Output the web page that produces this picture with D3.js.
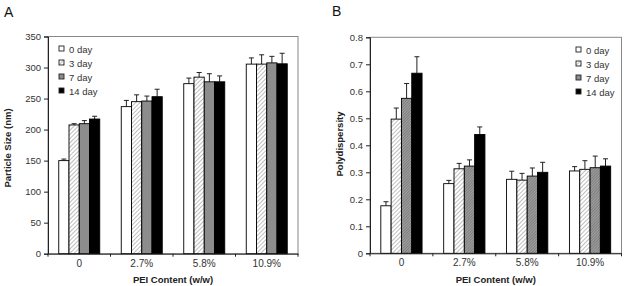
<!DOCTYPE html>
<html><head><meta charset="utf-8">
<script src="https://cdn.jsdelivr.net/npm/d3@7"></script>
<style>body{margin:0;background:#fff}svg{display:block;font-family:"Liberation Sans",Arial,sans-serif}</style>
</head><body><svg id="c" width="626" height="286"></svg>
<script>
const categories = ["0", "2.7%", "5.8%", "10.9%"];
const series = ["0 day", "3 day", "7 day", "14 day"];
// Panel A: particle size (nm), [category][series]
const sizeValues = [[150, 207.5, 209.5, 217], [237, 245, 246, 253], [274, 284.5, 277, 277], [305.5, 305.5, 307.5, 306]];
const sizeErrors = [[2.5, 2, 5, 4.5], [10, 11, 8, 12], [9, 7.5, 13, 9.5], [10, 15, 10.5, 17]];
const sizeTicks = [0, 50, 100, 150, 200, 250, 300, 350];
// Panel B: polydispersity
const pdiValues = [[0.176, 0.497, 0.574, 0.667], [0.258, 0.313, 0.323, 0.44], [0.274, 0.271, 0.286, 0.3], [0.305, 0.311, 0.317, 0.323]];
const pdiErrors = [[0.015, 0.041, 0.055, 0.061], [0.012, 0.02, 0.023, 0.028], [0.03, 0.025, 0.03, 0.037], [0.016, 0.032, 0.043, 0.027]];
const pdiTicks = [0, 0.1, 0.2, 0.3, 0.4, 0.5, 0.6, 0.7, 0.8];

const svg = d3.select("#c");
const defs = svg.append("defs");
function hatch(id, bg, stroke, size, w) {
  const p = defs.append("pattern").attr("id", id).attr("patternUnits", "userSpaceOnUse")
    .attr("width", size).attr("height", size).attr("patternTransform", "rotate(45)");
  p.append("rect").attr("width", size).attr("height", size).attr("fill", bg);
  p.append("line").attr("x1", 0).attr("y1", 0).attr("x2", 0).attr("y2", size).attr("stroke", stroke).attr("stroke-width", w);
}
hatch("h3", "#fff", "#888", 3, 1.1);
hatch("h7a", "#909090", "#808080", 2, 0.8);
hatch("h7b", "#a0a0a0", "#555", 2, 0.9);

function panel(o) {
  const g = svg.append("g");
  const x = d3.scaleBand().domain(categories).range([o.left, o.right]).paddingInner(0.344).paddingOuter(0.172);
  const xs = d3.scaleBand().domain(series).range([0, x.bandwidth()]);
  const y = d3.scaleLinear().domain([o.ticks[0], o.ticks[o.ticks.length - 1]]).range([o.bottom, o.top]);
  const fills = ["#fff", "url(#h3)", o.fill7, "#000"];
  g.append("rect").attr("x", o.left).attr("y", o.top).attr("width", o.right - o.left).attr("height", o.bottom - o.top)
    .attr("fill", "none").attr("stroke", "#888").attr("stroke-width", 1);
  categories.forEach((c, i) => {
    series.forEach((s, j) => {
      const v = o.values[i][j], e = o.errors[i][j];
      const bx = x(c) + xs(s), bw = xs.bandwidth();
      const cx = bx + bw / 2;
      g.append("line").attr("x1", cx).attr("x2", cx).attr("y1", y(v)).attr("y2", y(v + e)).attr("stroke", "#222").attr("stroke-width", 1);
      g.append("line").attr("x1", cx - 2.5).attr("x2", cx + 2.5).attr("y1", y(v + e)).attr("y2", y(v + e)).attr("stroke", "#222").attr("stroke-width", 1);
      g.append("rect").attr("x", bx).attr("y", y(v)).attr("width", bw).attr("height", y(0) - y(v))
        .attr("fill", fills[j]).attr("stroke", "#000").attr("stroke-width", 0.9);
    });
  });
  const ya = g.append("g").attr("transform", `translate(${o.left},0)`)
    .call(d3.axisLeft(y).tickValues(o.ticks).tickSize(4).tickPadding(3).tickFormat(o.fmt));
  ya.select(".domain").attr("stroke", "#222");
  ya.selectAll(".tick line").attr("stroke", "#222");
  ya.selectAll("text").attr("font-size", 9.5).attr("fill", "#333").attr("font-family", "Liberation Sans, Arial, sans-serif");
  const xa = g.append("g").attr("transform", `translate(0,${o.bottom})`)
    .call(d3.axisBottom(x).tickSize(0).tickPadding(6));
  xa.select(".domain").attr("stroke", "#222");
  xa.selectAll("text").attr("font-size", 10).attr("fill", "#333").attr("font-family", "Liberation Sans, Arial, sans-serif");
  const step = x.step();
  d3.range(categories.length + 1).forEach(k => {
    const tx = o.left + k * step;
    g.append("line").attr("x1", tx).attr("x2", tx).attr("y1", o.bottom).attr("y2", o.bottom + 3).attr("stroke", "#222");
  });
  g.append("text").attr("x", (o.left + o.right) / 2).attr("y", 283).attr("text-anchor", "middle")
    .attr("font-size", 9.5).attr("font-weight", "bold").attr("fill", "#222").text("PEI Content (w/w)");
  g.append("text").attr("transform", `translate(${o.ytx},${o.yty}) rotate(-90)`).attr("text-anchor", "middle")
    .attr("font-size", 9.5).attr("font-weight", "bold").attr("fill", "#222").text(o.ytitle);
  g.append("text").attr("x", o.lx).attr("y", o.ly).attr("font-size", 14).attr("fill", "#111").text(o.letter);
  series.forEach((s, j) => {
    const ly = o.legY + j * 14;
    g.append("rect").attr("x", o.legX).attr("y", ly - 3).attr("width", 5).attr("height", 5)
      .attr("fill", j === 1 ? "url(#h3)" : fills[j]).attr("stroke", "#222").attr("stroke-width", 0.9);
    g.append("text").attr("x", o.legX + 10).attr("y", ly + 3.5).attr("font-size", 9.5).attr("fill", "#333").text(s);
  });
}

panel({left: 48, right: 298, top: 36.5, bottom: 253.7, values: sizeValues, errors: sizeErrors, ticks: sizeTicks,
  fmt: d3.format("d"), fill7: "url(#h7a)", ytitle: "Particle Size (nm)", ytx: 11, yty: 148,
  letter: "A", lx: 4, ly: 16.5, legX: 59, legY: 49});
panel({left: 370, right: 621.5, top: 37.3, bottom: 253.3, values: pdiValues, errors: pdiErrors, ticks: pdiTicks,
  fmt: d => d === 0 ? "0" : d3.format(".1f")(d), fill7: "url(#h7b)", ytitle: "Polydispersity", ytx: 343, yty: 144,
  letter: "B", lx: 332, ly: 15.5, legX: 576, legY: 50});
</script></body></html>
